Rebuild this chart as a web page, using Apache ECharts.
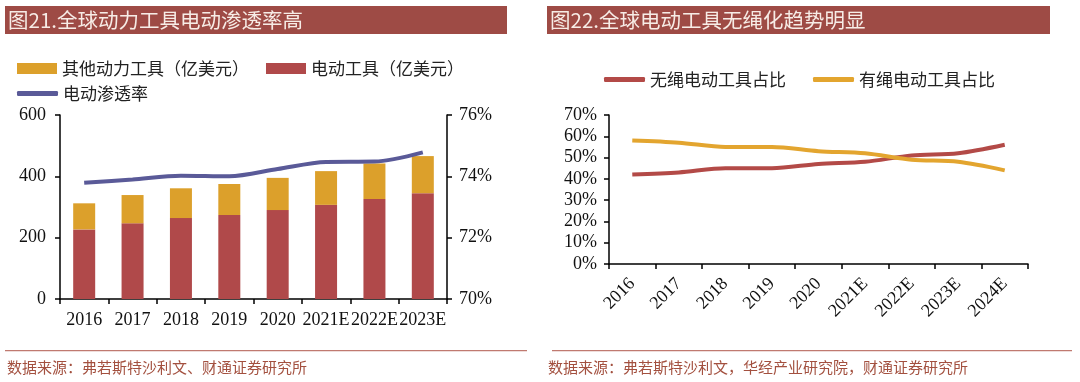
<!DOCTYPE html>
<html><head><meta charset="utf-8">
<script src="https://cdn.jsdelivr.net/npm/echarts@6/dist/echarts.min.js"></script>
<style>html,body{margin:0;padding:0;background:#fff}#c{width:1080px;height:382px}</style>
</head><body><div id="c"></div>
<script>
// Left chart data
const years1 = ['2016','2017','2018','2019','2020','2021E','2022E','2023E'];
const electricTools = [227, 247, 264, 274, 290, 307, 326, 345];
const otherPowerTools = [85, 92, 97, 101, 105, 110, 116, 121];
const electricPenetration = [73.79, 73.90, 74.02, 74.00, 74.24, 74.47, 74.48, 74.78];
const leftTicks = {min: 0, max: 600, interval: 200};
const rightTicks = {min: 70, max: 76, interval: 2};
// Right chart data
const years2 = ['2016','2017','2018','2019','2020','2021E','2022E','2023E','2024E'];
const cordlessShare = [42, 43, 45, 45, 47, 48, 51, 52, 56];
const cordedShare = [58, 57, 55, 55, 53, 52, 49, 48, 44];
const pctTicks = {min: 0, max: 70, interval: 10};

const titles = ['图21.全球动力工具电动渗透率高', '图22.全球电动工具无绳化趋势明显'];
const sources = ['数据来源：弗若斯特沙利文、财通证券研究所', '数据来源：弗若斯特沙利文，华经产业研究院，财通证券研究所'];

const CJK = '"Noto Sans CJK SC", sans-serif';
const SERIF = '"Liberation Serif", "DejaVu Serif", serif';
const RED = '#b0494a', GOLD = '#dca02b', PURPLE = '#5a5a98';
const LRED = '#b34a47', LGOLD = '#e3a52f';
const BAR = '#9e4b45', SRC = '#a3503f';

const chart = echarts.init(document.getElementById('c'), null, {renderer: 'canvas'});
const axisLine = {show: true, lineStyle: {color: '#000', width: 1.5}};
const axisTick = {show: true, inside: false, length: 5, lineStyle: {color: '#000', width: 1.5}};
const axisLabel = {color: '#111', fontFamily: SERIF, fontSize: 18};

chart.setOption({
  animation: false,
  graphic: [
    {type: 'rect', shape: {x: 5, y: 6, width: 502, height: 28}, style: {fill: BAR}},
    {type: 'rect', shape: {x: 547, y: 6, width: 503, height: 28}, style: {fill: BAR}},
    {type: 'text', x: 8, y: 20, style: {text: titles[0], fill: '#f7ece6', font: '20.5px ' + CJK, textVerticalAlign: 'middle'}},
    {type: 'text', x: 550, y: 20, style: {text: titles[1], fill: '#f7ece6', font: '20.5px ' + CJK, textVerticalAlign: 'middle'}},
    {type: 'rect', shape: {x: 5, y: 350, width: 522, height: 1.2}, style: {fill: '#c07a70'}},
    {type: 'rect', shape: {x: 552, y: 350, width: 520, height: 1.2}, style: {fill: '#c07a70'}},
    {type: 'text', x: 7, y: 367, style: {text: sources[0], fill: SRC, font: '15px ' + CJK, textVerticalAlign: 'middle'}},
    {type: 'text', x: 548, y: 367, style: {text: sources[1], fill: SRC, font: '15px ' + CJK, textVerticalAlign: 'middle'}}
  ],
  legend: [
    {data: ['其他动力工具（亿美元）', '电动工具（亿美元）'], left: 12, top: 55, itemWidth: 40, itemHeight: 11, itemGap: 17,
     icon: 'rect', textStyle: {fontFamily: CJK, fontSize: 17, color: '#222'}},
    {data: ['电动渗透率'], left: 12, top: 80, itemWidth: 41, itemHeight: 5, icon: 'roundRect',
     textStyle: {fontFamily: CJK, fontSize: 17, color: '#222'}},
    {data: ['无绳电动工具占比', '有绳电动工具占比'], left: 599, top: 66, itemWidth: 41, itemHeight: 5, itemGap: 27, icon: 'roundRect',
     textStyle: {fontFamily: CJK, fontSize: 17, color: '#222'}}
  ],
  grid: [
    {left: 60, top: 115, width: 387, height: 184},
    {left: 609, top: 115, width: 419, height: 149}
  ],
  xAxis: [
    {type: 'category', gridIndex: 0, data: years1, axisLine, axisTick, axisLabel: Object.assign({margin: 12, interval: 0}, axisLabel)},
    {type: 'category', gridIndex: 1, data: years2, axisLine, axisTick, axisLabel: Object.assign({margin: 17, rotate: 45, interval: 0}, axisLabel)}
  ],
  yAxis: [
    {type: 'value', gridIndex: 0, min: leftTicks.min, max: leftTicks.max, interval: leftTicks.interval, splitLine: {show: false},
     axisLine, axisTick, axisLabel: Object.assign({margin: 14}, axisLabel)},
    {type: 'value', gridIndex: 0, position: 'right', min: rightTicks.min, max: rightTicks.max, interval: rightTicks.interval, splitLine: {show: false},
     axisLine, axisTick, axisLabel: Object.assign({margin: 12, formatter: '{value}%'}, axisLabel)},
    {type: 'value', gridIndex: 1, min: pctTicks.min, max: pctTicks.max, interval: pctTicks.interval, splitLine: {show: false},
     axisLine, axisTick, axisLabel: Object.assign({margin: 12, formatter: '{value}%'}, axisLabel)}
  ],
  series: [
    {name: '电动工具（亿美元）', type: 'bar', stack: 'a', xAxisIndex: 0, yAxisIndex: 0, data: electricTools, barWidth: 22,
     itemStyle: {color: RED}},
    {name: '其他动力工具（亿美元）', type: 'bar', stack: 'a', xAxisIndex: 0, yAxisIndex: 0, data: otherPowerTools, barWidth: 22,
     itemStyle: {color: GOLD}},
    {name: '电动渗透率', type: 'line', xAxisIndex: 0, yAxisIndex: 1, data: electricPenetration, smooth: 0.3, showSymbol: false, symbol: 'none',
     itemStyle: {color: PURPLE}, lineStyle: {color: PURPLE, width: 4}},
    {name: '无绳电动工具占比', type: 'line', xAxisIndex: 1, yAxisIndex: 2, data: cordlessShare, smooth: 0.3, showSymbol: false, symbol: 'none',
     itemStyle: {color: LRED}, lineStyle: {color: LRED, width: 4}},
    {name: '有绳电动工具占比', type: 'line', xAxisIndex: 1, yAxisIndex: 2, data: cordedShare, smooth: 0.3, showSymbol: false, symbol: 'none',
     itemStyle: {color: LGOLD}, lineStyle: {color: LGOLD, width: 4}}
  ]
});
</script></body></html>
